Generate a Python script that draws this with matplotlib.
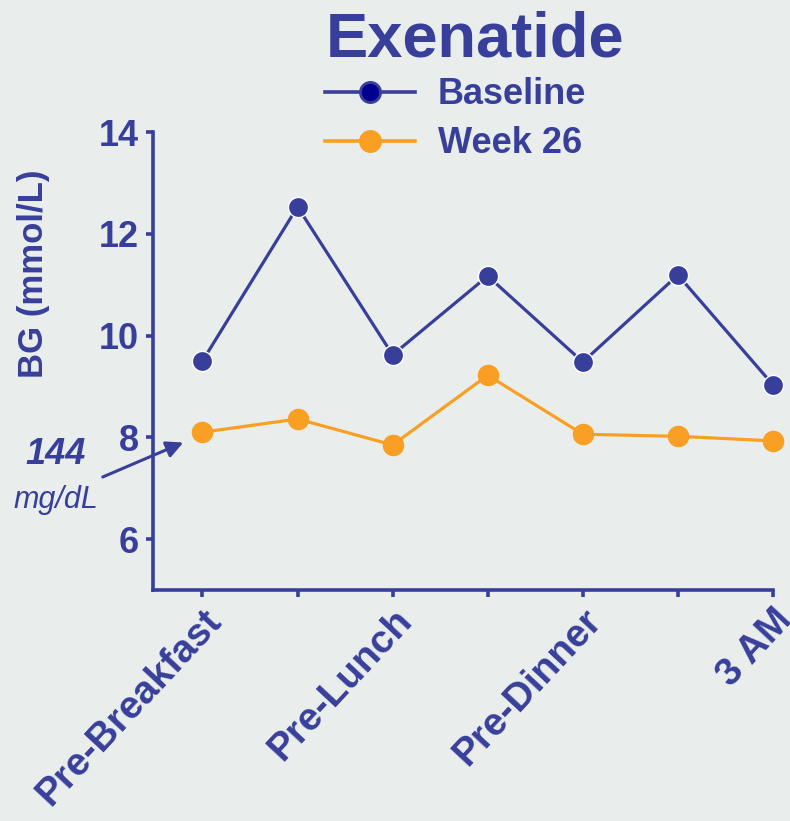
import matplotlib
matplotlib.use("Agg")
import matplotlib.pyplot as plt
from matplotlib.lines import Line2D
from matplotlib.patches import FancyArrowPatch

# Blood glucose profile (mmol/L) across the 7-point self-monitoring schedule
timepoints = ["Pre-Breakfast", "Post-Breakfast", "Pre-Lunch", "Post-Lunch",
              "Pre-Dinner", "Post-Dinner", "3 AM"]
baseline = [9.50, 12.53, 9.62, 11.17, 9.48, 11.19, 9.03]
week26 = [8.10, 8.36, 7.85, 9.22, 8.06, 8.02, 7.93]
tick_labels = ["Pre-Breakfast", "", "Pre-Lunch", "", "Pre-Dinner", "", "3 AM"]
yticks = [6, 8, 10, 12, 14]

NAVY = "#383f9b"
DARK_NAVY = "#00008f"
ORANGE = "#f9a024"
BG = "#e9eeec"

plt.rcParams["font.family"] = ["Liberation Sans", "DejaVu Sans"]

fig = plt.figure(figsize=(7.9, 8.21), dpi=100, facecolor=BG)
ax = fig.add_axes([0.1937, 0.2814, 0.7848, 0.5578], facecolor=BG)

x = list(range(len(timepoints)))
ax.plot(x, baseline, color=NAVY, lw=2.3, marker="o", ms=14.5,
        markerfacecolor=NAVY, markeredgecolor="white", markeredgewidth=1.0,
        zorder=3, clip_on=False)
ax.plot(x, week26, color=ORANGE, lw=2.3, marker="o", ms=14.5,
        markerfacecolor=ORANGE, markeredgecolor=ORANGE, markeredgewidth=1.0,
        zorder=3, clip_on=False)

ax.set_xlim(-0.52, 6)
ax.set_ylim(5, 14)
ax.set_yticks(yticks)
ax.set_yticklabels([str(v) for v in yticks])
ax.set_xticks(x)
ax.set_xticklabels(tick_labels, rotation=47, ha="right", va="top",
                   rotation_mode="anchor", fontsize=28)

for side in ("top", "right"):
    ax.spines[side].set_visible(False)
for side in ("left", "bottom"):
    ax.spines[side].set_color(NAVY)
    ax.spines[side].set_linewidth(2.6)

ax.tick_params(axis="both", colors=NAVY, width=2.6, length=5,
               direction="out", labelcolor=NAVY)
ax.tick_params(axis="y", pad=5, labelsize=26)
ax.tick_params(axis="x", pad=4)
for lbl in ax.get_xticklabels() + ax.get_yticklabels():
    lbl.set_fontweight("bold")

ax.set_ylabel("BG (mmol/L)", fontsize=25, fontweight="bold", color=NAVY)
ax.yaxis.set_label_coords(-0.166, 0.69)

# Title
fig.text(0.601, 0.951, "Exenatide", fontsize=45.5, fontweight="bold",
         color=NAVY, ha="center", va="center")

# Legend drawn as line + marker samples with labels
leg_items = [("Baseline", NAVY, DARK_NAVY, NAVY, 0.888),
             ("Week 26", ORANGE, ORANGE, ORANGE, 0.828)]
for text, lc, fc, ec, yf in leg_items:
    fig.add_artist(Line2D([0.411, 0.525], [yf, yf], color=lc, lw=2.6,
                          transform=fig.transFigure))
    fig.add_artist(Line2D([0.468], [yf], color=lc, marker="o", ms=14.5,
                          markerfacecolor=fc, markeredgecolor=ec,
                          markeredgewidth=2, transform=fig.transFigure))
    fig.text(0.554, yf - 0.003, text, fontsize=26, fontweight="bold",
             color=NAVY, ha="left", va="center")

# Annotation for the pre-breakfast week-26 value in mg/dL
fig.text(0.071, 0.446, "144", fontsize=26, fontweight="bold",
         fontstyle="italic", color=NAVY, ha="center", va="center")
fig.text(0.071, 0.391, "mg/dL", fontsize=22, fontstyle="italic",
         color=NAVY, ha="center", va="center")
fig.add_artist(FancyArrowPatch(
    (0.130, 0.419), (0.232, 0.461), transform=fig.transFigure,
    arrowstyle="-|>,head_length=10,head_width=5", color=NAVY, lw=2.2,
    shrinkA=0, shrinkB=0))

fig.savefig("out.png", dpi=100, facecolor=BG)
